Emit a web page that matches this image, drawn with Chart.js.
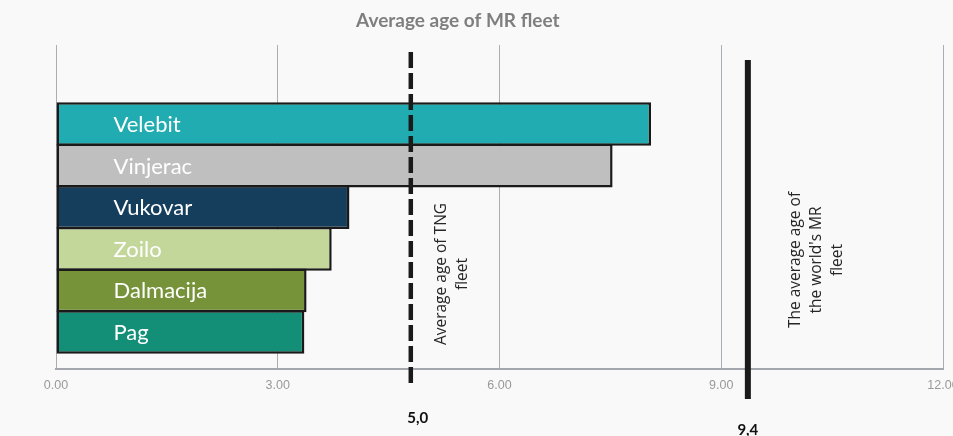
<!DOCTYPE html>
<html>
<head>
<meta charset="utf-8">
<title>Average age of MR fleet</title>
<script src="https://cdn.jsdelivr.net/npm/chart.js@4.4.1/dist/chart.umd.min.js"></script>
<style>
  html, body { margin: 0; padding: 0; background: #f9f9f9; overflow: hidden; }
  canvas { display: block; }
</style>
</head>
<body>
<canvas id="fleetChart" width="953" height="436"></canvas>
<script>
var chartTitle = 'Average age of MR fleet';
var ships = ['Velebit', 'Vinjerac', 'Vukovar', 'Zoilo', 'Dalmacija', 'Pag'];
var shipAges = [8.05, 7.53, 3.97, 3.73, 3.39, 3.36];
var shipColors = ['#20acb0', '#bfbfbf', '#143e5c', '#c3d79b', '#77933a', '#148f77'];
var xTicks = [0, 3, 6, 9, 12];

// reference lines: TNG fleet and world MR fleet
var refValues = [4.8, 9.36];
var refLabels = ['5,0', '9,4'];
var refNotes = [['Average age of TNG', 'fleet'], ['The average age of', "the world's MR", 'fleet']];

// look of the reference lines (offsets from the plot area)
var refStyles = [
  { dash: [16, 5], width: 4.5, top: 7, bottom: 18, labelDx: 7, noteDx: 41, noteY: 229 },
  { dash: [], width: 6, top: 15, bottom: 30, labelDx: 0, noteDx: 69, noteY: 215 }
];

// bar rows from top to bottom, Pag sits at 0
var barData = ships.map(function(name, i) {
  return { x: shipAges[i], y: ships.length - 1 - i };
});

var fleetPlugin = {
  id: 'fleetExtras',
  afterDatasetsDraw: function(chart) {
    var ctx = chart.ctx;
    var area = chart.chartArea;
    var xScale = chart.scales.x;

    // ship names inside the bars
    var meta = chart.getDatasetMeta(0);
    ctx.save();
    ctx.fillStyle = '#ffffff';
    ctx.font = '22px Lato';
    ctx.textBaseline = 'middle';
    ctx.textAlign = 'left';
    meta.data.forEach(function(bar, i) {
      ctx.fillText(ships[i], bar.base + 57, bar.y + 1);
    });
    ctx.restore();

    // reference lines + labels
    refValues.forEach(function(v, i) {
      var st = refStyles[i];
      var px = xScale.getPixelForValue(v);
      var y0 = area.top + st.top;
      var y1 = area.bottom + st.bottom;
      ctx.save();
      ctx.strokeStyle = '#1a1a1a';
      ctx.lineWidth = st.width;
      ctx.setLineDash(st.dash);
      ctx.beginPath();
      ctx.moveTo(px, y0);
      ctx.lineTo(px, y1);
      ctx.stroke();
      ctx.restore();

      ctx.save();
      ctx.fillStyle = '#111111';
      ctx.font = 'bold 15px Lato';
      ctx.textAlign = 'center';
      ctx.textBaseline = 'middle';
      ctx.fillText(refLabels[i], px + st.labelDx, y1 + 31);
      ctx.restore();

      // rotated note next to the line
      var lines = refNotes[i];
      var lh = 21;
      ctx.save();
      ctx.translate(px + st.noteDx, area.top + st.noteY);
      ctx.rotate(-Math.PI / 2);
      ctx.fillStyle = '#262626';
      ctx.font = '15.5px "Open Sans"';
      ctx.textAlign = 'center';
      ctx.textBaseline = 'middle';
      lines.forEach(function(t, j) {
        ctx.fillText(t, 0, (j - (lines.length - 1) / 2) * lh);
      });
      ctx.restore();
    });

    // title
    ctx.save();
    ctx.fillStyle = '#7f7f7f';
    ctx.font = 'bold 19px Lato';
    ctx.textAlign = 'center';
    ctx.textBaseline = 'middle';
    ctx.fillText(chartTitle, area.left + area.width * 0.453, 21);
    ctx.restore();
  }
};

var ctx = document.getElementById('fleetChart');
var fleetChart = new Chart(ctx, {
  type: 'bar',
  data: {
    datasets: [{
      data: barData,
      backgroundColor: shipColors,
      borderColor: '#1a1a1a',
      borderWidth: 2.5,
      borderSkipped: false,
      categoryPercentage: 1,
      barPercentage: 1.05
    }]
  },
  options: {
    responsive: false,
    animation: false,
    indexAxis: 'y',
    layout: {
      padding: { left: 56, right: 10, top: 45, bottom: 0 }
    },
    plugins: {
      legend: { display: false },
      tooltip: { enabled: false },
      title: { display: false }
    },
    scales: {
      x: {
        type: 'linear',
        min: 0,
        max: 12,
        afterBuildTicks: function(s) {
          s.ticks = xTicks.map(function(v) { return { value: v }; });
        },
        afterFit: function(s) {
          s.height = 67;
          s.paddingRight = 0;
        },
        grid: {
          color: '#a9adb4',
          lineWidth: 1,
          drawTicks: false
        },
        border: {
          color: '#a3a6ad',
          width: 2
        },
        ticks: {
          padding: 9,
          color: '#999999',
          font: { family: 'Liberation Sans', size: 12.5 },
          callback: function(v) { return Number(v).toFixed(2); }
        }
      },
      y: {
        type: 'linear',
        display: false,
        offset: false,
        min: -0.89,
        max: 6.9,
        afterBuildTicks: function(s) {
          s.ticks = barData.map(function(d) { return { value: d.y }; });
        }
      }
    }
  },
  plugins: [fleetPlugin]
});
</script>
</body>
</html>
